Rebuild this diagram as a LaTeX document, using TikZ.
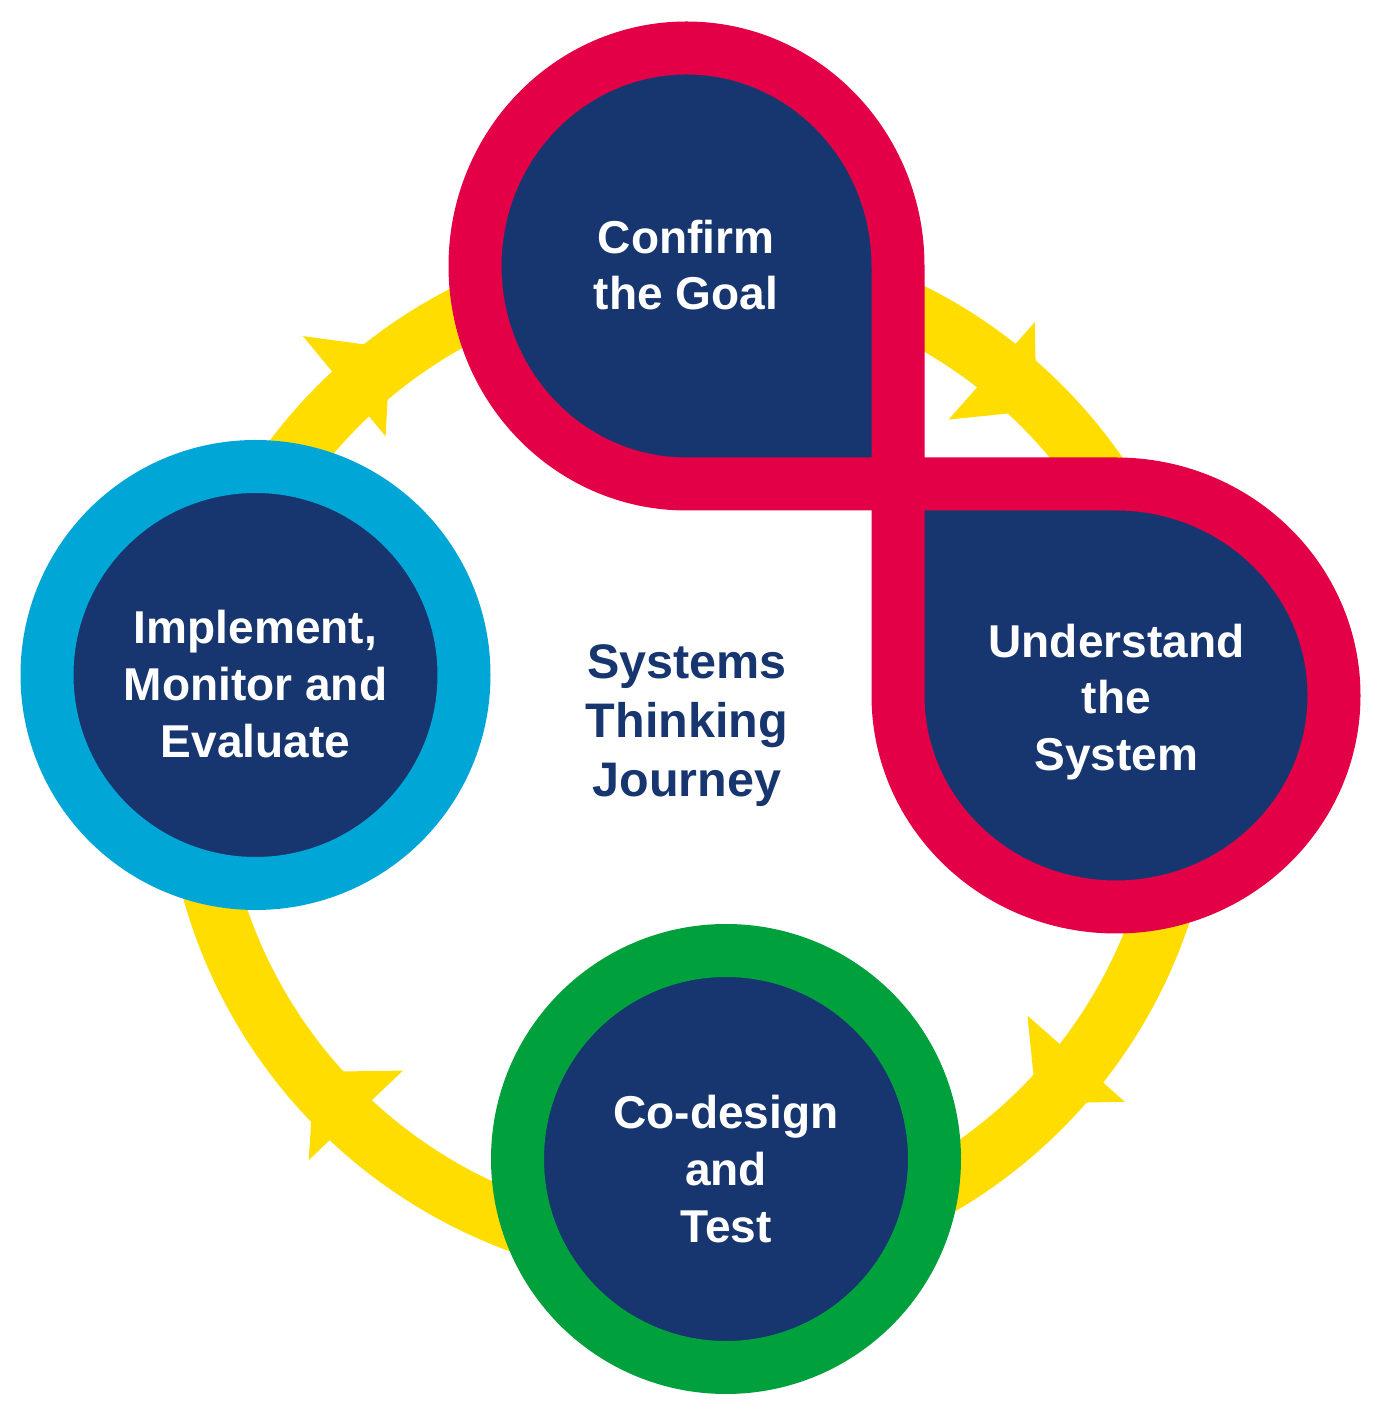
\documentclass[tikz,border=0pt]{standalone}
\usepackage{fontspec}
\setmainfont{Liberation Sans}
\definecolor{navy}{HTML}{173670}
\definecolor{goalred}{HTML}{E40046}
\definecolor{implcyan}{HTML}{00A6D6}
\definecolor{designgreen}{HTML}{00A03C}
\definecolor{pathyellow}{HTML}{FFDD00}
\tikzset{
  ringed/.style={circle, fill=navy, line width=5.3mm, minimum size=41.7mm, inner sep=0pt},
  lobe/.style={fill=navy, draw=goalred, line width=5.3mm, line join=miter},
  stagetext/.style={text=white, align=center, font=\bfseries\fontsize{13.1}{16.1}\selectfont},
  journey/.style={draw=pathyellow, line width=5.8mm}
}
\begin{document}
\begin{tikzpicture}[x=0.1mm, y=0.1mm]
  \useasboundingbox (0,0) rectangle (1400,1413);
  \fill[white] (0,0) rectangle (1400,1413);

  \coordinate (hub) at (690,656);
  \coordinate (knot) at (898,929);

  \draw[journey] (hub) circle[radius=497];
  \foreach \a/\r in {133/507,52/490,-38/490,-133/490}
    \fill[pathyellow, shift={(690,656)}, shift={(\a:\r)}, rotate=\a-93.5]
      (0,65) -- (60,0) -- (0,-65) -- cycle;

  \node[ringed, draw=implcyan] (implement) at (255.5,738) {};
  \node[ringed, draw=designgreen] (design) at (726,254) {};

  \draw[lobe] (898,1147) arc[start angle=0, end angle=270, x radius=211.5, y radius=218] -- (knot) -- cycle;
  \draw[lobe] (898,717.5) arc[start angle=180, end angle=450, x radius=218, y radius=211.5] -- (knot) -- cycle;

  \node[stagetext] (goal) at (686,1148) {Confirm\\the Goal};
  \node[stagetext] (system) at (1116.5,711) {Understand\\the\\System};
  \node[stagetext] at ([yshift=-0.9mm]implement) {Implement,\\Monitor and\\Evaluate};
  \node[stagetext] at ([yshift=-1mm]design) {Co-design\\and\\Test};
  \node[text=navy, align=center, font=\bfseries\fontsize{13.8}{16.8}\selectfont] (title) at (687,687) {Systems\\Thinking\\Journey};
\end{tikzpicture}
\end{document}
